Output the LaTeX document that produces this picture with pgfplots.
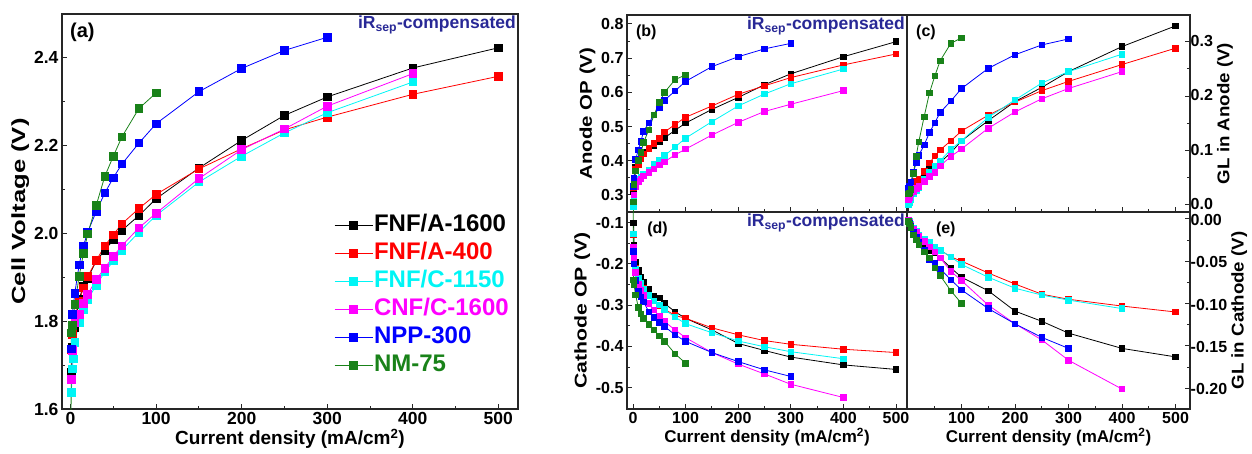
\documentclass[border=0pt]{standalone}
\usepackage{fontspec}
\setmainfont{Liberation Sans}
\usepackage{pgfplots}
\usepackage{pgfplotstable}
\pgfplotsset{compat=1.18}
\definecolor{irblue}{RGB}{40,40,150}
\definecolor{sgreen}{RGB}{25,130,25}
\definecolor{scyan}{RGB}{0,245,245}
\definecolor{smag}{RGB}{255,0,255}
\definecolor{sblue}{RGB}{0,0,255}
\definecolor{sred}{RGB}{255,0,0}

% panel (a): cell voltage
\pgfplotstableread{
x k r c m b g
0.5 nan nan nan nan nan 1.55
1 1.683 1.735 1.638 1.668 1.737 1.773
2 1.740 1.770 1.691 1.733 1.815 1.790
3 nan nan 1.714 nan nan nan
5 1.785 1.810 1.752 1.797 1.864 1.838
10 1.850 1.845 1.796 1.816 1.928 1.902
15 1.880 1.876 1.826 1.840 1.971 1.954
20 1.898 1.902 1.849 1.861 2.003 1.999
30 1.937 1.938 1.882 1.895 2.050 2.064
40 1.962 1.972 1.912 1.921 2.092 2.130
50 1.985 1.997 1.937 1.948 2.127 2.176
60 2.007 2.022 1.962 1.972 2.158 2.220
80 2.041 2.057 2.003 2.013 2.206 2.285
100 2.079 2.089 2.041 2.046 2.250 2.320
150 2.149 2.147 2.117 2.125 2.323 nan
200 2.212 2.193 2.176 2.191 2.376 nan
250 2.269 2.236 2.229 2.238 2.417 nan
300 2.311 2.265 2.275 2.290 2.447 nan
400 2.377 2.317 2.345 2.364 nan nan
500 2.423 2.358 nan nan nan nan
}\ta

% panel (b): anode OP
\pgfplotstableread{
x k r c m b g
0.5 nan nan nan nan nan 0.20
1 0.310 0.320 0.265 0.280 0.325 0.280
2 0.340 0.345 0.285 0.300 0.350 0.330
5 0.380 0.375 0.327 0.325 0.403 0.370
10 0.405 0.390 0.345 0.340 0.432 0.400
15 0.415 0.405 0.352 0.347 0.456 0.424
20 0.425 0.420 0.360 0.355 0.486 0.453
30 0.435 0.436 0.373 0.365 0.510 0.490
40 0.445 0.451 0.390 0.376 0.534 0.534
50 0.456 0.466 0.402 0.388 0.555 0.570
60 0.467 0.484 0.415 0.397 0.577 0.600
80 0.489 0.506 0.440 0.417 0.604 0.637
100 0.510 0.527 0.466 0.434 0.632 0.651
150 0.550 0.560 0.514 0.475 0.675 nan
200 0.585 0.594 0.560 0.512 0.704 nan
250 0.622 0.619 0.595 0.544 0.727 nan
300 0.654 0.643 0.625 0.565 0.743 nan
400 0.704 0.680 0.668 0.605 nan nan
500 0.748 0.712 nan nan nan nan
}\tb

% panel (c): GL in anode
\pgfplotstableread{
x k r c m b g
1 0.020 0.020 0.000 0.010 0.030 0.020
2 0.025 0.025 0.005 0.013 0.035 0.022
5 0.030 0.030 0.010 0.020 0.042 0.028
10 0.037 0.038 0.020 0.025 0.060 0.058
15 0.043 0.043 0.026 0.030 0.077 0.089
20 0.048 0.047 0.031 0.034 0.091 0.116
30 0.058 0.062 0.047 0.043 0.110 0.162
40 0.066 0.077 0.061 0.052 0.133 0.206
50 0.072 0.090 0.072 0.060 0.151 0.237
60 0.078 0.101 0.081 0.072 0.170 0.265
80 0.096 0.118 0.102 0.089 0.191 0.297
100 0.118 0.136 0.118 0.103 0.214 0.307
150 0.155 0.165 0.161 0.141 0.251 nan
200 0.190 0.189 0.193 0.171 0.276 nan
250 0.216 0.210 0.224 0.195 0.294 nan
300 0.245 0.227 0.245 0.214 0.305 nan
400 0.291 0.258 0.277 0.245 nan nan
500 0.329 0.288 nan nan nan nan
}\tc

% panel (d): cathode OP
\pgfplotstableread{
x k r c m b g
0.3 nan nan nan nan nan -0.030
1 -0.100 -0.130 -0.127 -0.160 -0.170 -0.239
2 -0.155 -0.170 -0.172 -0.185 -0.200 -0.251
5 -0.195 -0.210 -0.212 -0.220 -0.240 -0.275
10 -0.215 -0.235 -0.234 -0.250 -0.267 -0.305
15 -0.233 -0.248 -0.247 -0.263 -0.280 -0.321
20 -0.245 -0.260 -0.262 -0.276 -0.292 -0.332
30 -0.262 -0.275 -0.277 -0.296 -0.316 -0.346
40 -0.278 -0.290 -0.290 -0.312 -0.330 -0.360
50 -0.282 -0.300 -0.299 -0.328 -0.342 -0.375
60 -0.296 -0.310 -0.311 -0.340 -0.352 -0.388
80 -0.316 -0.325 -0.329 -0.360 -0.372 -0.418
100 -0.332 -0.332 -0.345 -0.379 -0.388 -0.441
150 -0.360 -0.355 -0.367 -0.415 -0.415 nan
200 -0.393 -0.372 -0.387 -0.443 -0.437 nan
250 -0.410 -0.386 -0.401 -0.467 -0.457 nan
300 -0.426 -0.395 -0.413 -0.492 -0.473 nan
400 -0.445 -0.407 -0.430 -0.524 nan nan
500 -0.456 -0.415 nan nan nan nan
}\td

% panel (e): GL in cathode
\pgfplotstableread{
x k r c m b g
1 -0.003 -0.002 -0.002 -0.002 -0.003 -0.003
2 -0.005 -0.004 -0.003 -0.004 -0.005 -0.006
5 -0.008 -0.006 -0.006 -0.007 -0.009 -0.010
10 -0.015 -0.011 -0.011 -0.012 -0.016 -0.019
15 -0.021 -0.015 -0.015 -0.016 -0.022 -0.025
20 -0.026 -0.019 -0.019 -0.020 -0.028 -0.031
30 -0.031 -0.024 -0.024 -0.027 -0.037 -0.039
40 -0.037 -0.028 -0.028 -0.033 -0.048 -0.046
50 -0.040 -0.033 -0.033 -0.039 -0.053 -0.058
60 -0.046 -0.037 -0.037 -0.046 -0.059 -0.067
80 -0.058 -0.045 -0.045 -0.062 -0.072 -0.085
100 -0.069 -0.050 -0.054 -0.073 -0.084 -0.100
150 -0.085 -0.064 -0.069 -0.102 -0.106 nan
200 -0.109 -0.077 -0.082 -0.124 -0.124 nan
250 -0.121 -0.089 -0.090 -0.143 -0.140 nan
300 -0.135 -0.095 -0.096 -0.167 -0.153 nan
400 -0.153 -0.103 -0.106 -0.201 nan nan
500 -0.163 -0.110 nan nan nan nan
}\te

\pgfplotsset{
  base/.style={
    scale only axis,
    axis line style={line width=1.3pt, black!85},
    tick align=inside,
    major tick length=5pt, minor tick length=3pt,
    every tick/.style={black!85, line width=0.9pt},
    tick label style={font=\fontsize{16}{16}\selectfont\bfseries},
    label style={font=\fontsize{17}{19}\selectfont\bfseries},
    /pgf/number format/assume math mode=true,
    minor x tick num=1, minor y tick num=1,
    xtick pos=left, ytick pos=left,
  },
  ser/.style={line width=0.8pt, mark=square*, mark size=#1, mark options={solid}},
  ser/.default=2.8pt,
  fix1/.style={#1ticklabel style={/pgf/number format/.cd, fixed, fixed zerofill, precision=1}},
  fix2/.style={#1ticklabel style={/pgf/number format/.cd, fixed, fixed zerofill, precision=2}},
}
\newcommand{\irlabel}{iR\textsubscript{sep}-compensated}

\begin{document}
\begin{tikzpicture}
\path[use as bounding box] (0,0) rectangle (1252pt,453pt);

% ---------- (a)
\begin{axis}[base, at={(62pt,44pt)}, anchor=south west,
  width=456pt, height=395pt,
  xmin=-10, xmax=523, ymin=1.6, ymax=2.5,
  xtick={0,100,...,500}, ytick={1.6,1.8,...,2.41},
  tick label style={font=\fontsize{17.5}{17.5}\selectfont\bfseries},
  fix1=y,
  xlabel={Current density (mA/cm\textsuperscript{2})},
  ylabel={\scalebox{1.35}[1]{Cell Voltage (V)}},
  label style={font=\fontsize{19}{21}\selectfont\bfseries},
  xlabel style={yshift=3pt},
  ylabel style={yshift=-2pt},
  legend style={at={(0.59,0.505)}, anchor=north west, draw=none, fill=none,
     font=\fontsize{24}{24}\selectfont\bfseries, row sep=1pt,
     nodes={inner sep=1pt, text height=19pt, text depth=6pt}},
  legend cell align=left,
  legend image code/.code={\draw[mark repeat=2, mark phase=2] plot coordinates {(0pt,0pt) (19pt,0pt) (38pt,0pt)};},
]
\addplot[black, ser=3.8pt] table[x=x,y=k]{\ta}; \addlegendentry{\textcolor{black}{FNF/A-1600}}
\addplot[sred, ser=3.8pt] table[x=x,y=r]{\ta}; \addlegendentry{\textcolor{sred}{FNF/A-400}}
\addplot[scyan, ser=3.8pt] table[x=x,y=c]{\ta}; \addlegendentry{\textcolor{scyan}{FNF/C-1150}}
\addplot[smag, ser=3.8pt] table[x=x,y=m]{\ta}; \addlegendentry{\textcolor{smag}{CNF/C-1600}}
\addplot[sblue, ser=3.8pt] table[x=x,y=b]{\ta}; \addlegendentry{\textcolor{sblue}{NPP-300}}
\addplot[sgreen, ser=3.8pt] table[x=x,y=g]{\ta}; \addlegendentry{\textcolor{sgreen}{NM-75}}
\node[anchor=north west, font=\fontsize{20}{21}\selectfont\bfseries] at (rel axis cs:0.01,0.985) {(a)};
\node[anchor=north east, text=irblue, font=\fontsize{17.5}{18}\selectfont\bfseries, inner sep=2pt] at (rel axis cs:1,1) {\irlabel};
\end{axis}

% ---------- (b)
\begin{axis}[base, at={(627pt,241pt)}, anchor=south west,
  width=280pt, height=197pt,
  xmin=-11.4, xmax=521, ymin=0.25, ymax=0.826,
  xtick={0,100,...,500}, xticklabels={}, ytick={0.3,0.4,...,0.81},
  fix1=y,
  ylabel={\scalebox{1.2}[1]{Anode OP (V)}},
  ylabel style={yshift=-1pt},
]
\addplot[black, ser] table[x=x,y=k]{\tb};
\addplot[sred, ser] table[x=x,y=r]{\tb};
\addplot[scyan, ser] table[x=x,y=c]{\tb};
\addplot[smag, ser] table[x=x,y=m]{\tb};
\addplot[sblue, ser] table[x=x,y=b]{\tb};
\addplot[sgreen, ser] table[x=x,y=g]{\tb};
\node[anchor=north west, font=\fontsize{16}{17}\selectfont\bfseries] at (rel axis cs:0.02,0.97) {(b)};
\node[anchor=north east, text=irblue, font=\fontsize{17.5}{18}\selectfont\bfseries, inner sep=2pt] at (rel axis cs:1,1) {\irlabel};
\end{axis}

% ---------- (c)
\begin{axis}[base, at={(907pt,241pt)}, anchor=south west,
  width=283pt, height=197pt,
  xmin=-2, xmax=527, ymin=-0.013, ymax=0.349,
  xtick={0,100,...,500}, xticklabels={}, ytick={0,0.1,0.2,0.3},
  ytick pos=right, yticklabel pos=right,
  yticklabel style={inner sep=0.5pt, yshift=1pt},
  fix1=y,
  ylabel={\scalebox{1.1}[1]{GL in Anode (V)}},
]
\addplot[black, ser] table[x=x,y=k]{\tc};
\addplot[sred, ser] table[x=x,y=r]{\tc};
\addplot[scyan, ser] table[x=x,y=c]{\tc};
\addplot[smag, ser] table[x=x,y=m]{\tc};
\addplot[sblue, ser] table[x=x,y=b]{\tc};
\addplot[sgreen, ser] table[x=x,y=g]{\tc};
\node[anchor=north west, font=\fontsize{16}{17}\selectfont\bfseries] at (rel axis cs:0.02,0.97) {(c)};
\end{axis}

% ---------- (d)
\begin{axis}[base, at={(627pt,44pt)}, anchor=south west,
  width=280pt, height=197pt,
  xmin=-11.4, xmax=521, ymin=-0.552, ymax=-0.074,
  xtick={0,100,...,500}, ytick={-0.5,-0.4,...,-0.09},
  fix1=y,
  xlabel={Current density (mA/cm\textsuperscript{2})},
  ylabel={\scalebox{1.25}[1]{Cathode OP (V)}},
  ylabel style={yshift=-1pt},
  xlabel style={yshift=3pt},
]
\addplot[black, ser] table[x=x,y=k]{\td};
\addplot[sred, ser] table[x=x,y=r]{\td};
\addplot[scyan, ser] table[x=x,y=c]{\td};
\addplot[smag, ser] table[x=x,y=m]{\td};
\addplot[sblue, ser] table[x=x,y=b]{\td};
\addplot[sgreen, ser] table[x=x,y=g]{\td};
\node[anchor=north west, font=\fontsize{16}{17}\selectfont\bfseries] at (rel axis cs:0.06,0.97) {(d)};
\node[anchor=north east, text=irblue, font=\fontsize{17.5}{18}\selectfont\bfseries, inner sep=2pt] at (rel axis cs:1,1) {\irlabel};
\end{axis}

% ---------- (e)
\begin{axis}[base, at={(907pt,44pt)}, anchor=south west,
  width=283pt, height=197pt,
  xmin=-2, xmax=527, ymin=-0.2245, ymax=0.008,
  xtick={100,200,...,500}, minor xtick={50,150,...,450},
  ytick={-0.2,-0.15,...,0.01},
  ytick pos=right, yticklabel pos=right,
  yticklabel style={inner sep=0.5pt, yshift=-1pt},
  fix2=y,
  xlabel={Current density (mA/cm\textsuperscript{2})},
  ylabel={\scalebox{1.1}[1]{GL in Cathode (V)}},
  xlabel style={yshift=3pt},
]
\addplot[black, ser] table[x=x,y=k]{\te};
\addplot[sred, ser] table[x=x,y=r]{\te};
\addplot[scyan, ser] table[x=x,y=c]{\te};
\addplot[smag, ser] table[x=x,y=m]{\te};
\addplot[sblue, ser] table[x=x,y=b]{\te};
\addplot[sgreen, ser] table[x=x,y=g]{\te};
\node[anchor=north west, font=\fontsize{16}{17}\selectfont\bfseries] at (rel axis cs:0.09,0.97) {(e)};
\end{axis}
\end{tikzpicture}
\end{document}
